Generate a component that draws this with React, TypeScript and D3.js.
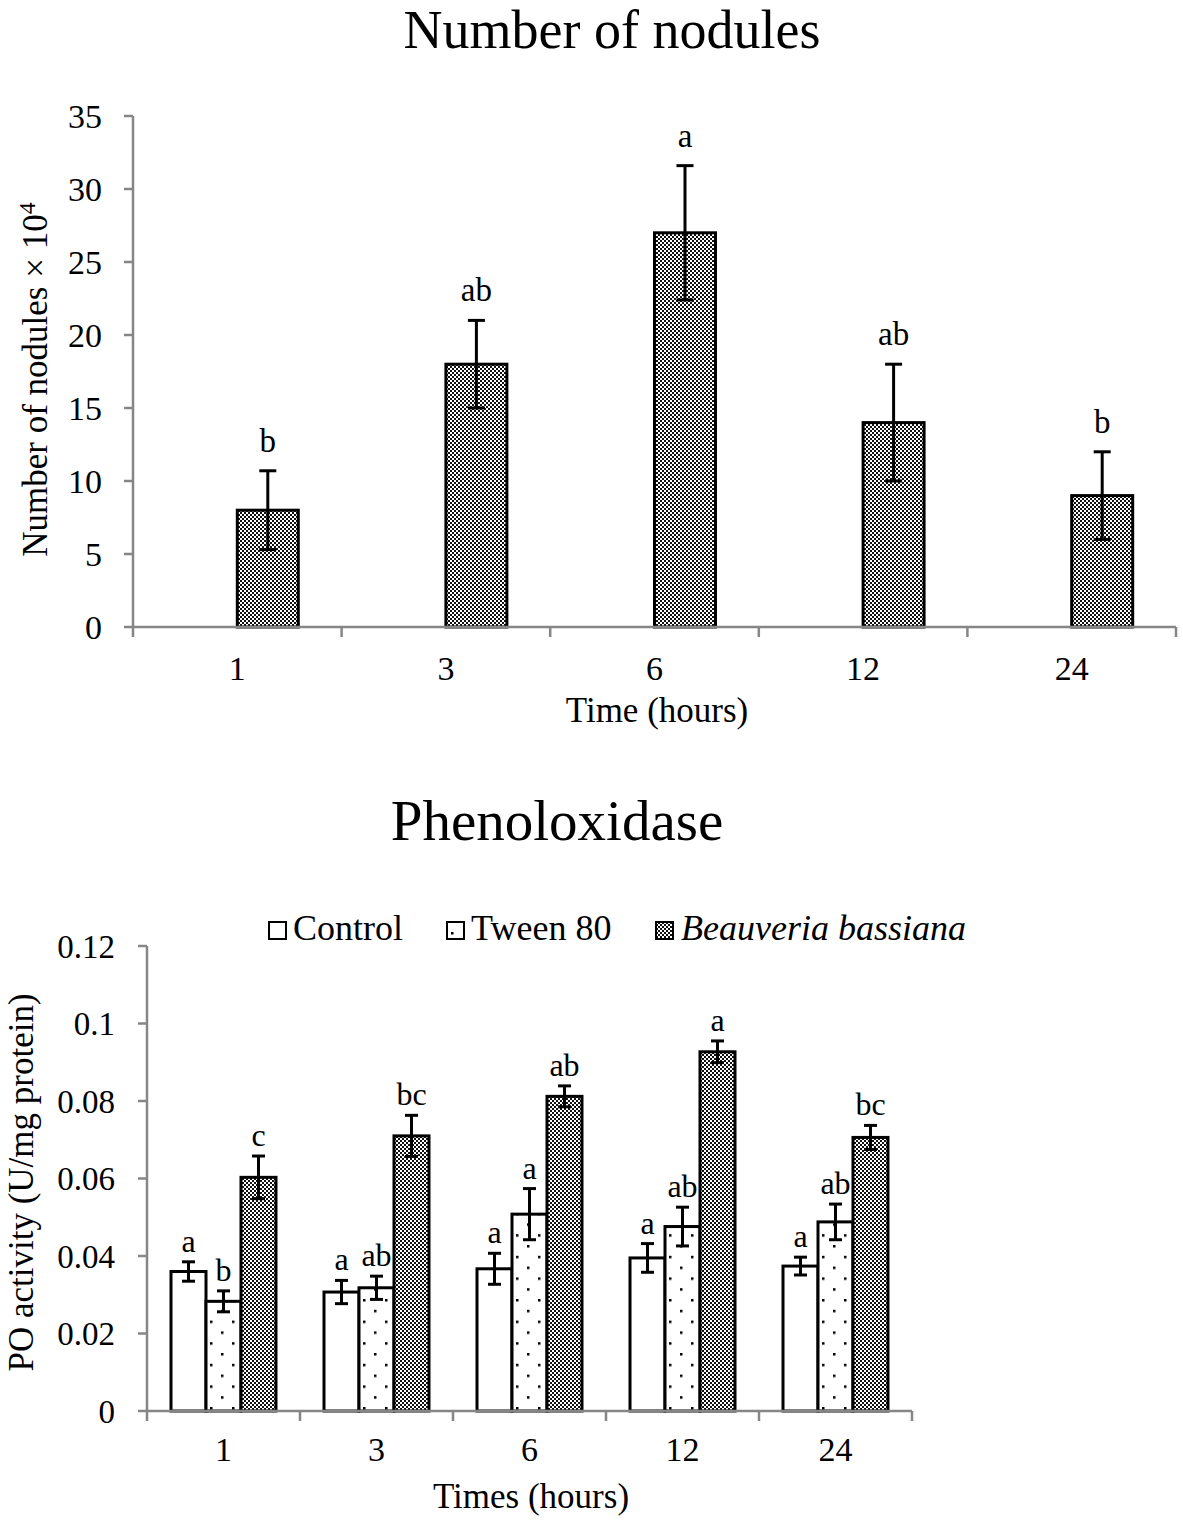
import React from 'react';
import * as d3 from 'd3';

// ---------- Data: Number of nodules ----------
const nodCategories = ['1', '3', '6', '12', '24'];
const nodMeans = [8, 18, 27, 14, 9];
const nodErrors = [2.7, 3, 4.6, 4, 3];
const nodLetters = ['b', 'ab', 'a', 'ab', 'b'];
const nodTicks = [0, 5, 10, 15, 20, 25, 30, 35];

// ---------- Data: Phenoloxidase ----------
const poCategories = ['1', '3', '6', '12', '24'];
const poSeries = ['Control', 'Tween 80', 'Beauveria bassiana'];
const controlMeans = [0.036, 0.0307, 0.0367, 0.0395, 0.0374];
const controlErrors = [0.0025, 0.003, 0.004, 0.0037, 0.0023];
const controlLetters = ['a', 'a', 'a', 'a', 'a'];
const tweenMeans = [0.0283, 0.0318, 0.0508, 0.0476, 0.0488];
const tweenErrors = [0.0027, 0.003, 0.0066, 0.005, 0.0046];
const tweenLetters = ['b', 'ab', 'a', 'ab', 'ab'];
const bbMeans = [0.0603, 0.071, 0.0812, 0.0927, 0.0706];
const bbErrors = [0.0055, 0.0053, 0.0027, 0.0028, 0.0031];
const bbLetters = ['c', 'bc', 'ab', 'a', 'bc'];
const poTicks = [0, 0.02, 0.04, 0.06, 0.08, 0.1, 0.12];

const FONT = '"Liberation Serif", "Times New Roman", serif';
const AXIS = '#868686';

function fmtPo(v: number) {
  return String(+v.toFixed(2));
}

function ErrorBar({ x, y0, y1, cap }: { x: number; y0: number; y1: number; cap: number }) {
  return (
    <g stroke="#000" strokeWidth={3}>
      <line x1={x} x2={x} y1={y0} y2={y1} />
      <line x1={x - cap / 2} x2={x + cap / 2} y1={y0} y2={y0} />
      <line x1={x - cap / 2} x2={x + cap / 2} y1={y1} y2={y1} />
    </g>
  );
}

function NodulesChart() {
  const left = 133, right = 1176, top = 116, bottom = 627;
  const x0 = d3.scaleBand<string>().domain(nodCategories).range([left, right]).padding(0);
  const x1 = d3.scaleBand<string>().domain(['none', 'bb']).range([0, x0.bandwidth()]).paddingInner(0).paddingOuter(0.71);
  const y = d3.scaleLinear().domain([0, 35]).range([bottom, top]);
  const boundaries = nodCategories.map((c) => x0(c)!).concat([right]);
  return (
    <g>
      <text x={612} y={48} textAnchor="middle" fontSize={54} fontFamily={FONT}>Number of nodules</text>
      {/* y axis */}
      <line x1={left} x2={left} y1={top} y2={bottom} stroke={AXIS} strokeWidth={2.5} />
      {nodTicks.map((t) => (
        <g key={t}>
          <line x1={left - 9} x2={left} y1={y(t)} y2={y(t)} stroke={AXIS} strokeWidth={2.5} />
          <text x={left - 31} y={y(t)} dy="0.35em" textAnchor="end" fontSize={34} fontFamily={FONT}>{t}</text>
        </g>
      ))}
      {/* bars */}
      {nodCategories.map((c, i) => {
        const bx = x0(c)! + x1('bb')!;
        const w = x1.bandwidth();
        const cx = bx + w / 2;
        const eTop = y(nodMeans[i] + nodErrors[i]);
        return (
          <g key={c}>
            <rect x={bx} y={y(nodMeans[i])} width={w} height={bottom - y(nodMeans[i])} fill="url(#checker)" stroke="#000" strokeWidth={3} />
            <ErrorBar x={cx} y0={eTop} y1={y(nodMeans[i] - nodErrors[i])} cap={17} />
            <text x={cx} y={eTop - 19} textAnchor="middle" fontSize={33} fontFamily={FONT}>{nodLetters[i]}</text>
          </g>
        );
      })}
      {/* x axis */}
      <line x1={left} x2={right} y1={bottom} y2={bottom} stroke={AXIS} strokeWidth={2.5} />
      {boundaries.map((b, i) => (
        <line key={i} x1={b} x2={b} y1={bottom} y2={bottom + 10} stroke={AXIS} strokeWidth={2.5} />
      ))}
      {nodCategories.map((c) => (
        <text key={c} x={x0(c)! + x0.bandwidth() / 2} y={680} textAnchor="middle" fontSize={34} fontFamily={FONT}>{c}</text>
      ))}
      <text x={657} y={722} textAnchor="middle" fontSize={35} fontFamily={FONT}>Time (hours)</text>
      <text transform={`translate(47,${(top + bottom) / 2 + 8}) rotate(-90)`} textAnchor="middle" fontSize={35} fontFamily={FONT}>
        Number of  nodules × 10<tspan dy={-12} fontSize={24}>4</tspan>
      </text>
    </g>
  );
}

function POChart() {
  const left = 147, right = 912, top = 946, bottom = 1411;
  const x0 = d3.scaleBand<string>().domain(poCategories).range([left, right]).padding(0);
  const x1 = d3.scaleBand<string>().domain(poSeries).range([0, x0.bandwidth()]).paddingInner(0).paddingOuter(0.686);
  const y = d3.scaleLinear().domain([0, 0.12]).range([bottom, top]);
  const boundaries = poCategories.map((c) => x0(c)!).concat([right]);
  const seriesData = [
    { name: poSeries[0], means: controlMeans, errs: controlErrors, letters: controlLetters, fill: (_i: number) => '#fff' },
    { name: poSeries[1], means: tweenMeans, errs: tweenErrors, letters: tweenLetters, fill: (i: number) => `url(#dots-${i})` },
    { name: poSeries[2], means: bbMeans, errs: bbErrors, letters: bbLetters, fill: (_i: number) => 'url(#checker)' },
  ];
  return (
    <g>
      <defs>
        {poCategories.map((c, i) => (
          <pattern key={c} id={`dots-${i}`} patternUnits="userSpaceOnUse" x={x0(c)! + x1(poSeries[1])! + 4} y={bottom - 4} width={22} height={21.6}>
            <rect width={22} height={21.6} fill="#fff" />
            <rect x={0} y={0} width={2.5} height={2.5} fill="#000" />
            <rect x={11} y={10.8} width={2.5} height={2.5} fill="#000" />
          </pattern>
        ))}
      </defs>
      <text x={557} y={840} textAnchor="middle" fontSize={57} fontFamily={FONT}>Phenoloxidase</text>
      {/* legend */}
      <g fontSize={36} fontFamily={FONT}>
        <rect x={269} y={922} width={17} height={17} fill="#fff" stroke="#000" strokeWidth={2} />
        <text x={293} y={940}>{poSeries[0]}</text>
        <rect x={447} y={922} width={17} height={17} fill="#fff" stroke="#000" strokeWidth={2} />
        <rect x={451} y={932} width={2.5} height={2.5} fill="#000" />
        <text x={471} y={940}>{poSeries[1]}</text>
        <rect x={656} y={922} width={17} height={17} fill="url(#checker)" stroke="#000" strokeWidth={2} />
        <text x={681} y={940} fontStyle="italic">{poSeries[2]}</text>
      </g>
      {/* y axis */}
      <line x1={left} x2={left} y1={top} y2={bottom} stroke={AXIS} strokeWidth={2.5} />
      {poTicks.map((t) => (
        <g key={t}>
          <line x1={left - 9} x2={left} y1={y(t)} y2={y(t)} stroke={AXIS} strokeWidth={2.5} />
          <text x={left - 32} y={y(t)} dy="0.35em" textAnchor="end" fontSize={33} fontFamily={FONT}>{fmtPo(t)}</text>
        </g>
      ))}
      {/* bars */}
      {poCategories.map((c, i) => (
        <g key={c}>
          {seriesData.map((s) => {
            const bx = x0(c)! + x1(s.name)!;
            const w = x1.bandwidth();
            return (
              <rect key={s.name} x={bx} y={y(s.means[i])} width={w} height={bottom - y(s.means[i])} fill={s.fill(i)} stroke="#000" strokeWidth={3} />
            );
          })}
          {seriesData.map((s) => {
            const bx = x0(c)! + x1(s.name)!;
            const cx = bx + x1.bandwidth() / 2;
            const eTop = y(s.means[i] + s.errs[i]);
            return (
              <g key={s.name}>
                <ErrorBar x={cx} y0={eTop} y1={y(s.means[i] - s.errs[i])} cap={13} />
                <text x={cx} y={eTop - 10} textAnchor="middle" fontSize={32} fontFamily={FONT}>{s.letters[i]}</text>
              </g>
            );
          })}
        </g>
      ))}
      {/* x axis */}
      <line x1={left} x2={right} y1={bottom} y2={bottom} stroke={AXIS} strokeWidth={2.5} />
      {boundaries.map((b, i) => (
        <line key={i} x1={b} x2={b} y1={bottom} y2={bottom + 10} stroke={AXIS} strokeWidth={2.5} />
      ))}
      {poCategories.map((c) => (
        <text key={c} x={x0(c)! + x0.bandwidth() / 2} y={1461} textAnchor="middle" fontSize={34} fontFamily={FONT}>{c}</text>
      ))}
      <text x={531} y={1508} textAnchor="middle" fontSize={35} fontFamily={FONT}>Times (hours)</text>
      <text transform={`translate(33,${(top + bottom) / 2 + 4}) rotate(-90)`} textAnchor="middle" fontSize={35} fontFamily={FONT}>
        PO activity (U/mg protein)
      </text>
    </g>
  );
}

export default function App() {
  return (
    <svg width={1183} height={1520} style={{ position: 'absolute', left: 0, top: 0, display: 'block', background: '#fff' }}>
      <defs>
        <pattern id="checker" patternUnits="userSpaceOnUse" width={4} height={4}>
          <rect width={4} height={4} fill="#fff" />
          <rect x={0} y={0} width={2} height={2} fill="#111" />
          <rect x={2} y={2} width={2} height={2} fill="#111" />
        </pattern>
      </defs>
      <rect width={1183} height={1520} fill="#fff" />
      <NodulesChart />
      <POChart />
    </svg>
  );
}
